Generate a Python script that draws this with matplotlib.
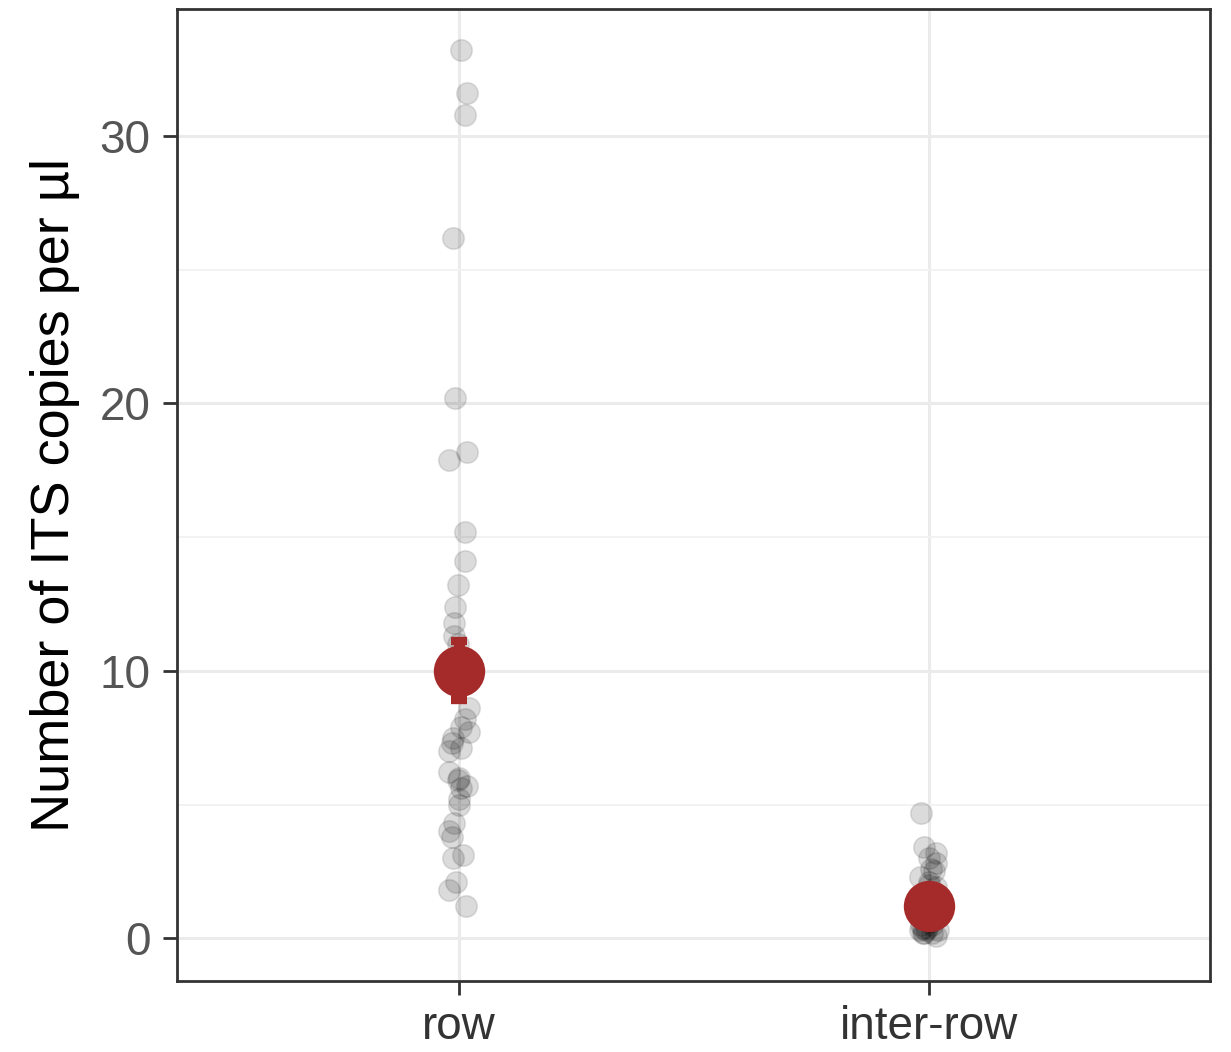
import numpy as np
import matplotlib
matplotlib.use("Agg")
import matplotlib.pyplot as plt
from matplotlib.ticker import MultipleLocator

plt.rcParams['font.family'] = ['Liberation Sans', 'DejaVu Sans']

# Groups and per-sample ITS copy numbers
groups = ["row", "inter-row"]
row_values = [33.2, 31.6, 30.8, 26.2, 20.2, 18.2, 17.9, 15.2, 14.1, 13.2,
              12.4, 11.8, 11.3, 11.0, 10.5, 9.5, 8.6, 8.2, 7.9, 7.7,
              7.5, 7.3, 7.1, 7.0, 6.2, 6.0, 5.9, 5.7, 5.6, 5.2,
              5.0, 4.3, 4.0, 3.8, 3.1, 3.0, 2.1, 1.8, 1.2]
interrow_values = [4.7, 3.4, 3.2, 3.0, 2.8, 2.6, 2.5, 2.3, 2.1, 2.0,
                   1.9, 1.7, 1.6, 1.5, 1.4, 1.3, 1.2, 1.1, 1.0, 0.9,
                   0.8, 0.7, 0.6, 0.5, 0.5, 0.4, 0.4, 0.3, 0.3, 0.3,
                   0.2, 0.2, 0.2, 0.1]
# Group means with standard errors
group_means = [10.0, 1.2]
group_se = [1.1, 0.2]

fig = plt.figure(figsize=(12.31, 10.52), dpi=100)
ax = fig.add_axes([0.1438, 0.0675, 0.9832 - 0.1438, 0.9914 - 0.0675])

rng = np.random.default_rng(7)
for i, vals in enumerate([row_values, interrow_values]):
    vals = np.asarray(vals)
    xs = i + 1 + rng.uniform(-0.022, 0.022, size=vals.size)
    ax.scatter(xs, vals, s=15.5 ** 2, facecolor=(0, 0, 0, 0.14),
               edgecolor=(0, 0, 0, 0.10), linewidths=1.2, zorder=3)

ax.errorbar([1, 2], group_means, yerr=group_se, fmt="none",
            ecolor="#A52A2A", elinewidth=8, capsize=6, capthick=6, zorder=4)
ax.plot([1, 2], group_means, linestyle="none", marker="o", markersize=37,
        color="#A52A2A", markeredgewidth=0, zorder=5)

ax.set_xlim(0.4, 2.6)
ax.set_ylim(-1.6, 34.75)
ax.set_xticks([1, 2])
ax.set_xticklabels(groups)
ax.yaxis.set_major_locator(MultipleLocator(10))
ax.yaxis.set_minor_locator(MultipleLocator(5))

ax.grid(which="major", color="#EBEBEB", linewidth=2.2, zorder=0)
ax.grid(which="minor", axis="y", color="#F2F2F2", linewidth=1.4, zorder=0)
ax.set_axisbelow(True)

for sp in ax.spines.values():
    sp.set_color("#333333")
    sp.set_linewidth(2.0)

ax.tick_params(axis="both", which="major", length=10, width=2.0,
               color="#333333", labelsize=33, labelcolor="#555555")
ax.tick_params(axis="y", pad=9)
ax.tick_params(axis="x", labelcolor="#333333", pad=7)
ax.tick_params(which="minor", length=0)

ax.set_ylabel("Number of ITS copies per µl", fontsize=39, color="black",
              labelpad=14)

fig.savefig("out.png", dpi=100)
